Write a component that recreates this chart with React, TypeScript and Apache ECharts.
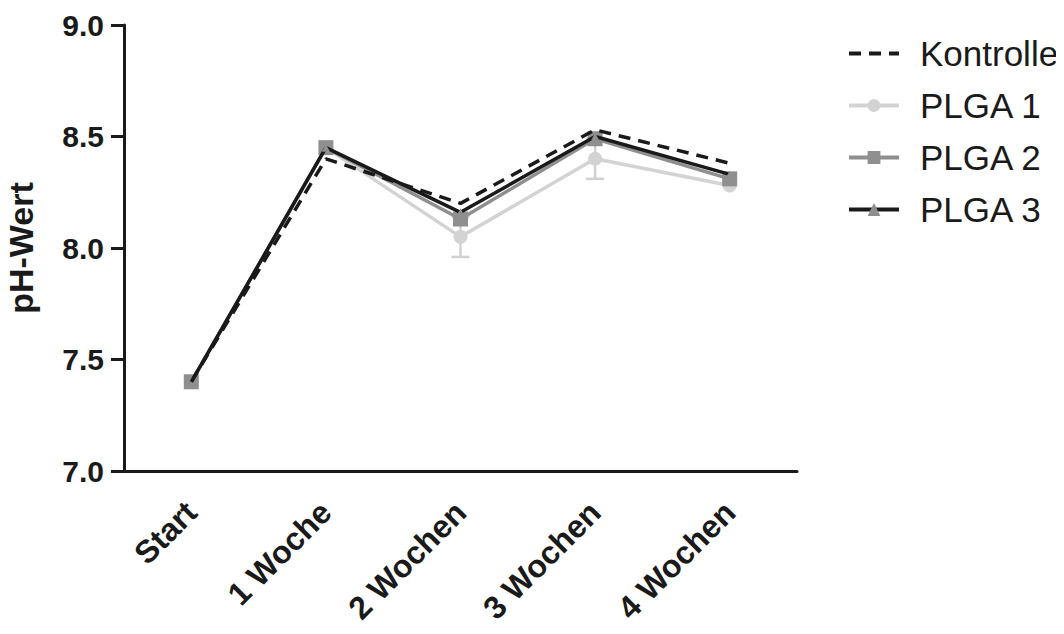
import React, { useEffect, useRef } from "react";
import * as echarts from "echarts";

const categories = ["Start", "1 Woche", "2 Wochen", "3 Wochen", "4 Wochen"];
const kontrolle = [7.4, 8.4, 8.2, 8.53, 8.38];
const plga1 = [7.4, 8.45, 8.05, 8.4, 8.28];
const plga1Sd = [0, 0, 0.09, 0.09, 0];
const plga2 = [7.4, 8.45, 8.13, 8.49, 8.31];
const plga3 = [7.4, 8.45, 8.16, 8.5, 8.33];
const yTicks = [7.0, 7.5, 8.0, 8.5, 9.0];

const FONT = "Liberation Sans, Arial, sans-serif";

export default function App() {
  const ref = useRef<HTMLDivElement>(null);
  useEffect(() => {
    if (!ref.current) return;
    const chart = echarts.init(ref.current, undefined, { renderer: "svg" });
    const errData = plga1.map((v, i) => [i, v - plga1Sd[i], v + plga1Sd[i]]);
    chart.setOption({
      animation: false,
      backgroundColor: "#ffffff",
      textStyle: { fontFamily: FONT },
      grid: { left: 124, top: 25, right: 267, bottom: 163, containLabel: false, outerBoundsMode: "none" },
      legend: {
        orient: "vertical",
        left: 842,
        top: 31,
        itemWidth: 50,
        itemHeight: 16,
        itemGap: 17,
        textStyle: { fontSize: 35, color: "#1a1a1a", fontFamily: FONT, padding: [0, 0, 0, 16] },
        data: [
          { name: "Kontrolle", itemStyle: { color: "transparent", borderWidth: 0 }, lineStyle: { width: 4 } },
          { name: "PLGA 1", lineStyle: { width: 4 } },
          { name: "PLGA 2", lineStyle: { width: 4 } },
          { name: "PLGA 3", lineStyle: { width: 4 } },
        ],
      },
      xAxis: {
        type: "category",
        data: categories,
        boundaryGap: true,
        axisLine: { lineStyle: { color: "#1a1a1a", width: 3 } },
        axisTick: { alignWithLabel: true, length: 12, lineStyle: { color: "#1a1a1a", width: 3 } },
        axisLabel: {
          rotate: 45,
          fontSize: 32,
          fontWeight: "bold",
          color: "#1a1a1a",
          fontFamily: FONT,
          margin: 36,
        },
      },
      yAxis: {
        type: "value",
        min: 7,
        max: 9,
        interval: 0.5,
        name: "pH-Wert",
        nameLocation: "middle",
        nameGap: 86,
        nameTextStyle: { fontSize: 34, fontWeight: "bold", color: "#1a1a1a", fontFamily: FONT },
        axisLine: { show: true, lineStyle: { color: "#1a1a1a", width: 3 } },
        axisTick: { show: true, length: 13, lineStyle: { color: "#1a1a1a", width: 3 } },
        splitLine: { show: false },
        axisLabel: {
          fontSize: 30,
          fontWeight: "bold",
          color: "#1a1a1a",
          fontFamily: FONT,
          margin: 20,
          formatter: (v: number) => (yTicks.includes(v) ? v.toFixed(1) : ""),
        },
      },
      series: [
        {
          type: "custom",
          name: "err",
          z: 1,
          data: errData,
          renderItem: (params: any, api: any) => {
            const lo = api.value(1);
            const hi = api.value(2);
            if (hi - lo <= 0) return null;
            const x = api.value(0);
            const p1 = api.coord([x, lo]);
            const p2 = api.coord([x, hi]);
            const cap = 9;
            const st = { stroke: "#d0d0d0", lineWidth: 2.5 };
            return {
              type: "group",
              children: [
                { type: "line", shape: { x1: p1[0], y1: p1[1], x2: p2[0], y2: p2[1] }, style: st },
                { type: "line", shape: { x1: p1[0] - cap, y1: p1[1], x2: p1[0] + cap, y2: p1[1] }, style: st },
                { type: "line", shape: { x1: p2[0] - cap, y1: p2[1], x2: p2[0] + cap, y2: p2[1] }, style: st },
              ],
            };
          },
        },
        {
          name: "PLGA 1",
          type: "line",
          z: 2,
          data: plga1,
          symbol: "circle",
          symbolSize: 14,
          lineStyle: { color: "#d3d3d3", width: 3.5 },
          itemStyle: { color: "#d3d3d3" },
        },
        {
          name: "PLGA 2",
          type: "line",
          z: 3,
          data: plga2,
          symbol: "rect",
          symbolSize: 15,
          lineStyle: { color: "#8f8f8f", width: 3.5 },
          itemStyle: { color: "#8f8f8f" },
        },
        {
          name: "PLGA 3",
          type: "line",
          z: 4,
          data: plga3,
          symbol: "triangle",
          symbolSize: 8,
          lineStyle: { color: "#1a1a1a", width: 3.5 },
          itemStyle: { color: "#8f8f8f" },
        },
        {
          name: "Kontrolle",
          type: "line",
          z: 5,
          data: kontrolle,
          symbol: "none",
          lineStyle: { color: "#1a1a1a", width: 3.5, type: [12, 8] },
          itemStyle: { color: "#1a1a1a" },
        },
      ],
    });
    return () => chart.dispose();
  }, []);
  return <div ref={ref} style={{ width: 1064, height: 634, margin: -8 }} />;
}
